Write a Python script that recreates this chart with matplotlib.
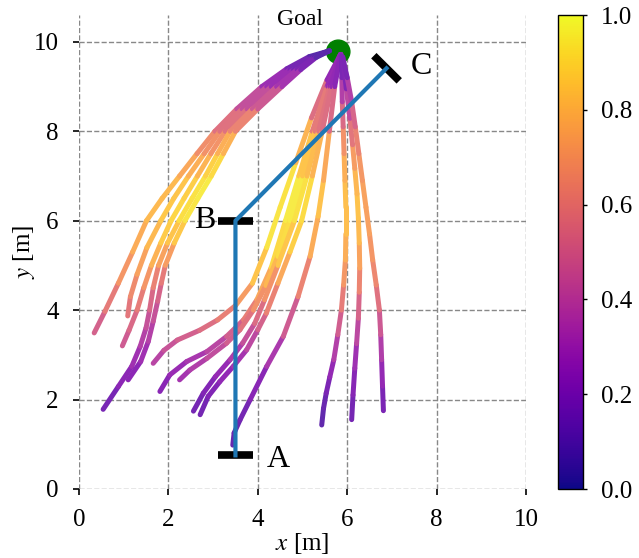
'''
Trajectories to the goal, coloured by normalised value
'''

import numpy as np
import matplotlib
matplotlib.use('Agg')
from matplotlib import pyplot as plt
from matplotlib.collections import LineCollection
from matplotlib.colors import ListedColormap

# left group: paths that arc over the top-left into the goal
left_xs = [
    [0.34, 0.58, 0.88, 1.2, 1.51, 1.86, 2.25, 2.64, 3.04, 3.53, 4.09, 4.65, 5.15, 5.6],
    [1.09, 1.15, 1.3, 1.52, 1.83, 2.12, 2.45, 2.8, 3.15, 3.65, 4.2, 4.72, 5.18, 5.6],
    [0.97, 1.12, 1.3, 1.45, 1.62, 1.83, 2.06, 2.35, 2.65, 2.95, 3.27, 3.76, 4.3, 4.8, 5.22, 5.6],
    [0.54, 0.88, 1.18, 1.37, 1.5, 1.58, 1.66, 1.78, 1.98, 2.24, 2.53, 2.83, 3.1, 3.38, 3.88, 4.42, 4.88, 5.26, 5.6],
    [1.1, 1.38, 1.55, 1.66, 1.76, 1.84, 1.93, 2.13, 2.37, 2.66, 2.96, 3.23, 3.5, 4.0, 4.54, 4.96, 5.3, 5.6],
]
left_ys = [
    [3.49, 3.97, 4.6, 5.3, 6.0, 6.5, 7.0, 7.5, 8.0, 8.5, 9.0, 9.4, 9.67, 9.8],
    [3.87, 4.3, 4.8, 5.4, 6.0, 6.5, 7.0, 7.5, 8.0, 8.5, 9.0, 9.38, 9.65, 9.8],
    [3.2, 3.55, 4.0, 4.5, 5.0, 5.5, 6.0, 6.5, 7.0, 7.5, 8.0, 8.5, 9.0, 9.38, 9.65, 9.8],
    [1.78, 2.29, 2.74, 3.19, 3.6, 4.0, 4.5, 5.0, 5.5, 6.0, 6.5, 7.0, 7.5, 8.0, 8.5, 9.0, 9.38, 9.65, 9.8],
    [2.44, 2.85, 3.3, 3.75, 4.2, 4.6, 5.0, 5.5, 6.0, 6.5, 7.0, 7.5, 8.0, 8.5, 9.0, 9.38, 9.65, 9.8],
]
left_cs = [
    [0.45, 0.55, 0.65, 0.75, 0.8, 0.83, 0.8, 0.72, 0.62, 0.5, 0.35, 0.22, 0.12, 0.05],
    [0.55, 0.62, 0.7, 0.78, 0.85, 0.87, 0.83, 0.74, 0.63, 0.5, 0.35, 0.22, 0.12, 0.05],
    [0.45, 0.5, 0.56, 0.65, 0.75, 0.84, 0.9, 0.9, 0.85, 0.75, 0.63, 0.5, 0.35, 0.22, 0.12, 0.05],
    [0.15, 0.2, 0.27, 0.33, 0.4, 0.47, 0.57, 0.68, 0.8, 0.9, 0.95, 0.92, 0.85, 0.72, 0.55, 0.38, 0.25, 0.13, 0.05],
    [0.2, 0.27, 0.33, 0.4, 0.47, 0.55, 0.65, 0.8, 0.92, 0.97, 0.95, 0.87, 0.72, 0.55, 0.38, 0.25, 0.13, 0.05],
]

# right group: paths that come up into the goal from below
right_xs = [
    [1.66, 1.9, 2.2, 2.7, 3.1, 3.5, 3.88, 4.2, 4.5, 4.85, 5.2, 5.55, 5.85],
    [1.81, 2.03, 2.41, 2.86, 3.3, 3.68, 3.98, 4.3, 4.62, 4.92, 5.22, 5.55, 5.85],
    [2.25, 2.48, 2.86, 3.3, 3.6, 3.9, 4.18, 4.45, 4.72, 5.0, 5.28, 5.57, 5.85],
    [2.56, 2.78, 3.05, 3.38, 3.66, 3.93, 4.15, 4.45, 4.82, 5.1, 5.36, 5.61, 5.86],
    [2.71, 2.89, 3.15, 3.45, 3.75, 4.0, 4.19, 4.45, 4.72, 4.98, 5.22, 5.44, 5.65, 5.86],
    [3.44, 3.47, 3.6, 3.83, 4.2, 4.57, 4.9, 5.17, 5.35, 5.47, 5.6, 5.72, 5.85],
    [5.43, 5.47, 5.53, 5.61, 5.7, 5.79, 5.87, 5.92, 5.96, 5.97, 5.97, 5.95, 5.93, 5.91, 5.89, 5.88, 5.87],
    [6.1, 6.13, 6.17, 6.21, 6.25, 6.27, 6.28, 6.27, 6.25, 6.22, 6.17, 6.12, 6.06, 5.98, 5.9],
    [6.81, 6.79, 6.77, 6.75, 6.72, 6.65, 6.57, 6.5, 6.42, 6.34, 6.26, 6.18, 6.1, 6.0, 5.9],
]
right_ys = [
    [2.81, 3.1, 3.33, 3.55, 3.78, 4.1, 4.6, 5.4, 6.3, 7.3, 8.3, 9.15, 9.72],
    [2.18, 2.55, 2.85, 3.07, 3.41, 3.78, 4.23, 4.95, 6.0, 7.0, 8.0, 9.0, 9.72],
    [2.44, 2.66, 2.92, 3.26, 3.56, 4.0, 4.55, 5.2, 6.0, 7.0, 8.0, 9.0, 9.72],
    [1.74, 2.14, 2.51, 2.89, 3.26, 3.7, 4.23, 5.0, 6.0, 7.0, 8.0, 9.0, 9.72],
    [1.66, 2.07, 2.4, 2.74, 3.11, 3.56, 3.93, 4.6, 5.3, 6.0, 7.0, 8.0, 9.0, 9.72],
    [0.98, 1.25, 1.54, 2.0, 2.74, 3.41, 4.3, 5.2, 6.1, 6.9, 8.0, 9.0, 9.72],
    [1.43, 1.8, 2.14, 2.5, 2.89, 3.45, 4.0, 4.56, 5.12, 5.7, 6.3, 6.9, 7.5, 8.1, 8.66, 9.2, 9.68],
    [1.55, 2.1, 2.7, 3.25, 3.82, 4.4, 4.94, 5.5, 6.06, 6.6, 7.17, 7.7, 8.29, 8.95, 9.66],
    [1.75, 2.3, 2.89, 3.45, 4.0, 4.56, 5.12, 5.7, 6.3, 6.9, 7.5, 8.1, 8.66, 9.2, 9.66],
]
right_cs = [
    [0.35, 0.42, 0.47, 0.52, 0.58, 0.66, 0.78, 0.92, 0.97, 0.9, 0.7, 0.4, 0.1],
    [0.2, 0.25, 0.3, 0.35, 0.43, 0.55, 0.68, 0.85, 0.97, 0.95, 0.75, 0.45, 0.1],
    [0.3, 0.33, 0.38, 0.45, 0.52, 0.62, 0.75, 0.87, 0.97, 0.95, 0.75, 0.45, 0.1],
    [0.15, 0.18, 0.23, 0.3, 0.38, 0.48, 0.6, 0.78, 0.93, 0.93, 0.72, 0.42, 0.1],
    [0.15, 0.18, 0.22, 0.28, 0.35, 0.45, 0.55, 0.7, 0.83, 0.93, 0.9, 0.7, 0.4, 0.1],
    [0.12, 0.13, 0.15, 0.18, 0.27, 0.4, 0.55, 0.72, 0.83, 0.85, 0.68, 0.38, 0.08],
    [0.1, 0.12, 0.15, 0.22, 0.3, 0.42, 0.55, 0.66, 0.75, 0.81, 0.85, 0.82, 0.75, 0.62, 0.45, 0.27, 0.1],
    [0.15, 0.19, 0.25, 0.34, 0.45, 0.58, 0.7, 0.79, 0.85, 0.84, 0.78, 0.66, 0.5, 0.3, 0.1],
    [0.15, 0.22, 0.3, 0.41, 0.52, 0.61, 0.68, 0.72, 0.75, 0.73, 0.68, 0.58, 0.45, 0.27, 0.1],
]

# reference path A -> B -> C and the goal
route_x = [3.5, 3.5, 6.88]
route_y = [0.75, 6.0, 9.41]
route_names = ['A', 'B', 'C']
goal = (5.8, 9.78)

cbar_ticks = [0.0, 0.2, 0.4, 0.6, 0.8, 1.0]
axis_ticks = [0, 2, 4, 6, 8, 10]


def faded_plasma(fade=0.15):
    # plasma seen through a slightly transparent stroke on white
    base = plt.get_cmap('plasma')(np.linspace(0, 1, 256))
    base[:, :3] = base[:, :3] * (1 - fade) + fade
    return ListedColormap(base)


def add_trajectory(ax, xs, ys, cs, cmap, norm):
    pts = np.column_stack([xs, ys])
    segs = np.stack([pts[:-1], pts[1:]], axis=1)
    c = np.asarray(cs)
    lc = LineCollection(segs, cmap=cmap, norm=norm, linewidths=3.6,
                        capstyle='round', zorder=3)
    lc.set_array((c[:-1] + c[1:]) / 2)
    ax.add_collection(lc)


def add_bars(ax, xs, ys, half=0.4):
    pts = np.column_stack([xs, ys])
    for i, p in enumerate(pts):
        d = pts[1] - pts[0] if i == 0 else p - pts[i - 1]
        n = np.array([-d[1], d[0]]) / np.hypot(*d)
        a, b = p - half * n, p + half * n
        ax.plot([a[0], b[0]], [a[1], b[1]], color='black', lw=5.5,
                solid_capstyle='butt', zorder=5)


def create_plot():
    plt.rcParams['font.family'] = 'serif'
    plt.rcParams['font.serif'] = ['Liberation Serif', 'DejaVu Serif']
    plt.rcParams['mathtext.fontset'] = 'stix'
    plt.rcParams['font.size'] = 18

    fig = plt.figure(figsize=(6.39, 5.58), dpi=100)
    ax = fig.add_axes([79 / 639, 69 / 558, 447 / 639, 474 / 558])
    cax = fig.add_axes([558 / 639, 69 / 558, 25 / 639, 474 / 558])

    norm = plt.Normalize(0, 1)
    line_cmap = faded_plasma()
    for xs, ys, cs in zip(left_xs + right_xs, left_ys + right_ys, left_cs + right_cs):
        add_trajectory(ax, xs, ys, cs, line_cmap, norm)

    ax.add_patch(plt.Circle(goal, 0.26, color='green', zorder=2))
    ax.plot(route_x, route_y, color='#1f77b4', lw=3, zorder=6)
    add_bars(ax, route_x, route_y)

    ax.text(4.2, 0.65, route_names[0], ha='left', va='center', fontsize=23)
    ax.text(3.05, 6.0, route_names[1], ha='right', va='center', fontsize=23)
    ax.text(7.42, 9.45, route_names[2], ha='left', va='center', fontsize=23)
    ax.text(4.95, 10.5, 'Goal', ha='center', va='center', fontsize=17)

    ax.set_xlim(0, 10)
    ax.set_ylim(0, 10.6)
    ax.set_aspect('equal')
    ax.set_xticks(axis_ticks)
    ax.set_yticks(axis_ticks)
    ax.grid(True, linestyle='--', color='#888888', lw=1)
    ax.set_axisbelow(True)
    for s in ax.spines.values():
        s.set_visible(False)
    ax.tick_params(direction='out', length=4.5, width=1.2, pad=10, labelsize=18)
    ax.set_xlabel(r'$x$ [m]')
    ax.set_ylabel(r'$y$ [m]')
    ax.xaxis.set_label_coords(0.5, -0.088)
    ax.yaxis.set_label_coords(-0.095, 0.5)

    sm = plt.cm.ScalarMappable(norm=norm, cmap='plasma')
    cb = fig.colorbar(sm, cax=cax)
    cb.set_ticks(cbar_ticks)
    cb.ax.set_yticklabels(['%.1f' % t for t in cbar_ticks])
    cb.outline.set_linewidth(1)
    cb.ax.tick_params(length=3, width=1, pad=10, labelsize=18)

    fig.savefig('out.png', dpi=100)


if __name__ == '__main__':
    create_plot()
